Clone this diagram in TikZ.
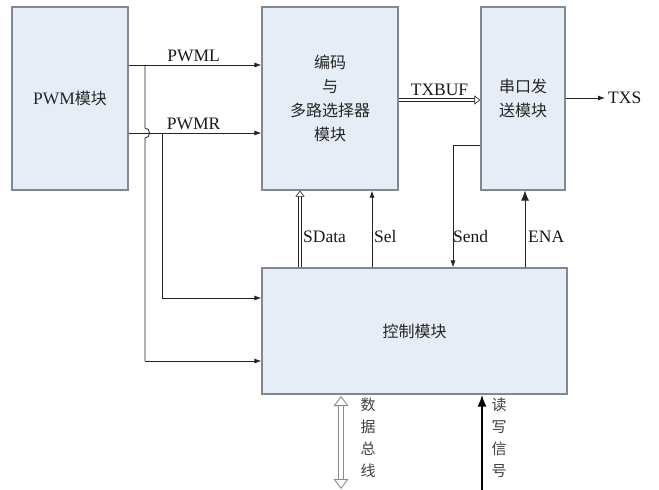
\documentclass[tikz,border=0pt]{standalone}
\usepackage{fontspec}
\setmainfont{Liberation Serif}
\newfontfamily\cjk{Noto Sans CJK SC}
\usetikzlibrary{arrows.meta}
\definecolor{boxfill}{RGB}{231,237,247}
\definecolor{boxline}{RGB}{128,136,148}
\definecolor{wire}{RGB}{35,35,35}
\definecolor{busgray}{RGB}{140,140,140}
\tikzset{
  blk/.style={draw=boxline, fill=boxfill, line width=1.2pt, rectangle, inner sep=0pt,
    font=\fontsize{17.5}{24}\selectfont, align=center, text=black!85},
  cblk/.style={blk, font=\cjk\fontsize{16}{24}\selectfont},
  wirearrow/.style={draw=wire, line width=0.8pt, -{Latex[length=7pt,width=5pt]}},
  wireline/.style={draw=wire, line width=0.8pt},
  busarrow/.style={draw=wire, line width=0.6pt, double=white, double distance=2.2pt,
    -{Triangle[open,length=6pt,width=9pt,fill=white]}},
  lbl/.style={font=\fontsize{17.5}{20}\selectfont, inner sep=1pt, text=black!90},
  vlbl/.style={font=\cjk\fontsize{15}{22}\selectfont, align=center, inner sep=0pt, text=black!75},
}
\begin{document}
\begin{tikzpicture}[x=1pt,y=-1pt]
\useasboundingbox[fill=white] (0,0) rectangle (659,490);
% blocks
\node[blk, minimum width=116pt, minimum height=183pt] (pwm) at (70,98.5) {PWM{\cjk\fontsize{16}{24}\selectfont 模块}};
\node[cblk, minimum width=136pt, minimum height=183pt] (enc) at (330,98.5) {编码\\与\\多路选择器\\模块};
\node[cblk, minimum width=84pt, minimum height=183pt] (ser) at (523,98.5) {串口发\\送模块};
\node[cblk, minimum width=305pt, minimum height=126pt] (ctl) at (414.5,331) {控制模块};

% helper coordinates
\coordinate (yL) at (0,65);
\coordinate (yR) at (0,133);
\coordinate (jL) at (145,65);
\coordinate (jR) at (162,133);
\coordinate (hopA) at (145,128);
\coordinate (hopB) at (145,138);
\coordinate (bL) at (145,361);
\coordinate (bR) at (162,298);
\coordinate (yT) at (0,100);
\coordinate (yS) at (0,98);
\coordinate (txs) at (605,98);
\coordinate (xSD) at (300,0);
\coordinate (xSel) at (372,0);
\coordinate (sendA) at (453,145);
\coordinate (xENA) at (525,0);
\coordinate (dbT) at (341,396);
\coordinate (dbB) at (341,489);
\coordinate (rwB) at (482,490);

% PWM outputs
\draw[wirearrow] (pwm.east |- yL) -- node[lbl, above=2pt, pos=0.49] {PWML} (enc.west |- yL);
\draw[wirearrow] (pwm.east |- yR) -- node[lbl, above=2pt, pos=0.49] {PWMR} (enc.west |- yR);
\draw[wireline] (jL) -- (hopA) .. controls (151,128) and (151,138) .. (hopB) -- (bL);
\draw[wirearrow] (bL) -- (ctl.west |- bL);
\draw[wireline] (jR) -- (bR);
\draw[wirearrow] (bR) -- (ctl.west |- bR);

% TXBUF and TXS
\draw[busarrow] (enc.east |- yT) -- node[lbl, above=3pt] {TXBUF} (ser.west |- yT);
\draw[wirearrow] (ser.east |- yS) -- (txs);
\node[lbl, anchor=west] (txsl) at (607,98) {TXS};

% control links
\draw[busarrow] (xSD |- ctl.north) -- (xSD |- enc.south);
\node[lbl, anchor=west] (sdl) at (302,237) {SData};
\draw[wirearrow] (xSel |- ctl.north) -- (xSel |- enc.south);
\node[lbl, anchor=west] (sell) at (373,237) {Sel};
\draw[wirearrow] (ser.west |- sendA) -- (sendA) -- (sendA |- ctl.north);
\node[lbl, anchor=west] (sendl) at (452,237) {Send};
\draw[draw=wire, line width=0.8pt, -{Latex[length=10pt,width=8pt]}] (xENA |- ctl.north) -- (xENA |- ser.south);
\node[lbl, anchor=west] (enal) at (527,237) {ENA};

% bottom
\draw[draw=busgray, line width=0.9pt, double=white, double distance=4.5pt,
  {Triangle[open,length=10pt,width=15pt,fill=white]}-{Triangle[open,length=10pt,width=15pt,fill=white]}]
  (dbT) -- (dbB);
\node[vlbl] (dbl) at (368,438) {数\\据\\总\\线};
\draw[draw=black, line width=2pt, -{Latex[length=12pt,width=9pt]}] (rwB) -- (rwB |- ctl.south);
\node[vlbl] (rwl) at (499,438) {读\\写\\信\\号};
\end{tikzpicture}
\end{document}
